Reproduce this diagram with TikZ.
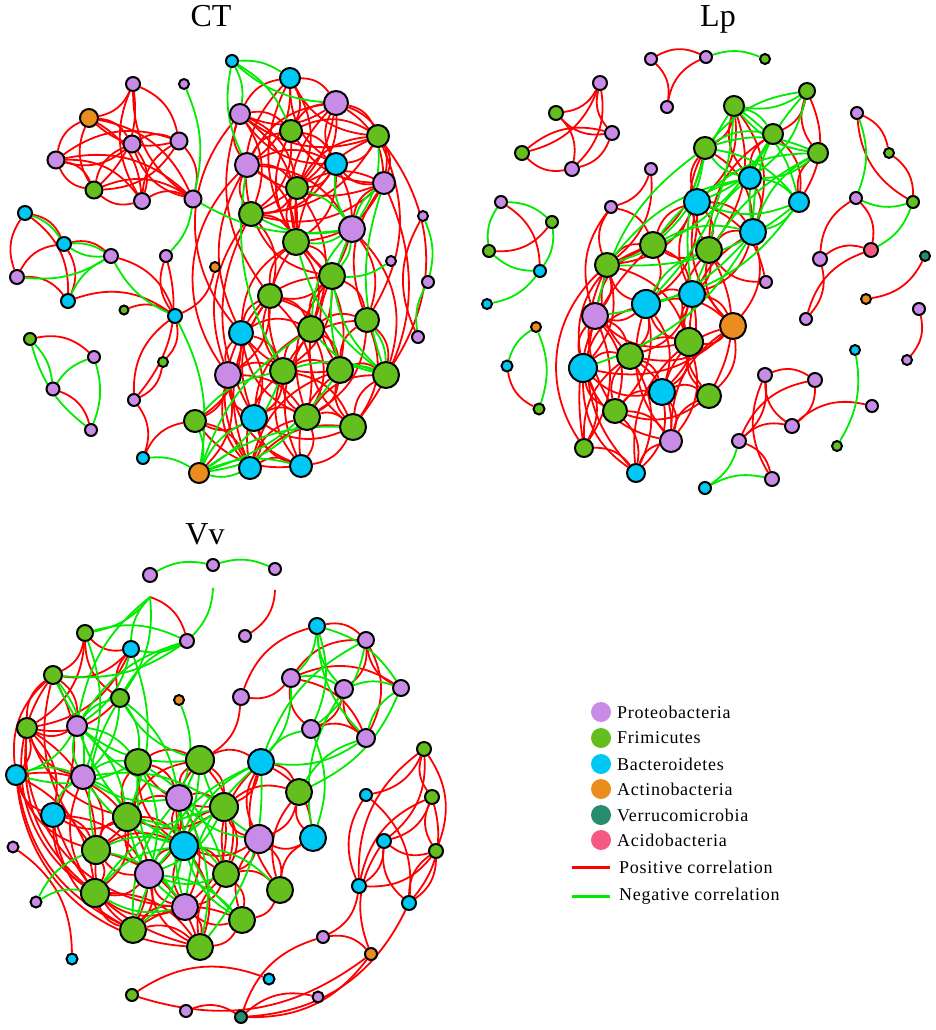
\documentclass[tikz,border=0pt]{standalone}
\usepackage{fontspec}
\setmainfont{Liberation Serif}
\definecolor{cP}{RGB}{200,140,230}
\definecolor{cG}{RGB}{100,190,30}
\definecolor{cB}{RGB}{0,200,245}
\definecolor{cO}{RGB}{235,140,30}
\definecolor{cV}{RGB}{40,140,110}
\definecolor{cA}{RGB}{245,90,130}
\definecolor{eR}{RGB}{255,0,0}
\definecolor{eG}{RGB}{0,235,0}
\pgfdeclarelayer{bgl}
\pgfdeclarelayer{edges}
\pgfsetlayers{bgl,edges,main}
\tikzset{
 nd/.style={circle,draw=black,line width=2pt,inner sep=0pt},
 tP/.style={nd,fill=cP}, tG/.style={nd,fill=cG}, tB/.style={nd,fill=cB},
 tO/.style={nd,fill=cO}, tV/.style={nd,fill=cV}, tA/.style={nd,fill=cA},
 poscor/.style={draw=eR,line width=1.8pt},
 negcor/.style={draw=eG,line width=1.8pt},
 ttl/.style={font=\fontsize{32}{36}\selectfont,anchor=base,inner sep=0pt},
 legtext/.style={font=\fontsize{18}{20}\selectfont\addfontfeature{LetterSpace=4},anchor=west,inner sep=0pt},
 legdot/.style={circle,inner sep=0pt,minimum size=20pt},
}
\newcommand\N[5]{\node[#2,minimum size={2*#5pt}] (#1) at (#3,#4) {};}
\begin{document}
\begin{tikzpicture}[x=1pt,y=-1pt]
\begin{pgfonlayer}{bgl}
\fill[white] (0,0) rectangle (935,1030);
\end{pgfonlayer}
\useasboundingbox (0,0) rectangle (935,1030);
% titles
\node[ttl] (tCT) at (211,27) {CT};
\node[ttl] (tLp) at (718,27) {Lp};
\node[ttl] (tVv) at (205,544) {Vv};
% ================= CT nodes
\N{c1}{tP}{133}{84}{7}
\N{c2}{tP}{184}{84}{5}
\N{c3}{tO}{89}{118}{9}
\N{c4}{tP}{132}{144}{8.5}
\N{c5}{tP}{179}{141}{8.5}
\N{c6}{tP}{56}{160}{8.5}
\N{c7}{tG}{94}{190}{8.5}
\N{c8}{tP}{142}{201}{8}
\N{c9}{tP}{193}{199}{8.5}
\N{c10}{tB}{25}{213}{7}
\N{c11}{tB}{64}{244}{7}
\N{c12}{tP}{111}{256}{7}
\N{c13}{tP}{17}{277}{7}
\N{c14}{tB}{68}{301}{7}
\N{c15}{tP}{166}{256}{6}
\N{c16}{tO}{215}{267}{5}
\N{c17}{tG}{124}{310}{4.5}
\N{c18}{tB}{175}{316}{7}
\N{c19}{tG}{30}{339}{6}
\N{c20}{tP}{94}{357}{6}
\N{c21}{tG}{163}{362}{5}
\N{c22}{tP}{53}{389}{6.5}
\N{c23}{tP}{134}{400}{6}
\N{c24}{tP}{91}{430}{6}
\N{c25}{tB}{143}{458}{6}
\N{c26}{tO}{199}{473}{10}
\N{c27}{tG}{195}{421}{11}
\N{d1}{tB}{232}{61}{6}
\N{d2}{tB}{290}{78}{10}
\N{d3}{tP}{336}{103}{12}
\N{d4}{tP}{240}{114}{10}
\N{d5}{tG}{291}{131}{11}
\N{d6}{tG}{378}{136}{11}
\N{d7}{tP}{247}{165}{12}
\N{d8}{tB}{336}{164}{11}
\N{d9}{tG}{297}{188}{11}
\N{d10}{tP}{384}{183}{11}
\N{d11}{tG}{251}{214}{12}
\N{d12}{tP}{352}{229}{13}
\N{d13}{tG}{296}{242}{13}
\N{d14}{tP}{423}{216}{5}
\N{d15}{tP}{391}{261}{5}
\N{d16}{tG}{332}{276}{13}
\N{d17}{tG}{270}{296}{12}
\N{d18}{tB}{241}{333}{12}
\N{d19}{tG}{311}{329}{13}
\N{d20}{tG}{367}{320}{12}
\N{d21}{tP}{228}{375}{13}
\N{d22}{tG}{283}{371}{13}
\N{d23}{tG}{340}{370}{13}
\N{d24}{tG}{386}{375}{13}
\N{d25}{tB}{254}{418}{13}
\N{d26}{tG}{307}{417}{13}
\N{d27}{tG}{353}{427}{13}
\N{d28}{tB}{250}{468}{11}
\N{d29}{tB}{301}{466}{11}
\N{d30}{tP}{428}{282}{6}
\N{d31}{tP}{418}{337}{6}
% ================= Lp nodes
\N{l1}{tP}{651}{59}{6}
\N{l2}{tP}{706}{57}{6}
\N{l3}{tP}{667}{107}{6}
\N{l4}{tG}{765}{59}{5}
\N{l5}{tP}{600}{83}{7}
\N{l6}{tG}{556}{113}{7}
\N{l7}{tP}{612}{133}{7}
\N{l8}{tG}{522}{153}{7}
\N{l9}{tP}{572}{169}{7}
\N{l10}{tP}{651}{169}{6}
\N{l11}{tP}{611}{207}{6}
\N{l12}{tP}{501}{202}{6}
\N{l13}{tG}{552}{222}{6}
\N{l14}{tG}{489}{251}{6}
\N{l15}{tB}{540}{271}{6}
\N{l16}{tB}{487}{304}{5}
\N{l17}{tO}{536}{327}{5}
\N{l18}{tB}{507}{366}{5.5}
\N{l19}{tG}{539}{409}{5.5}
\N{m1}{tG}{807}{91}{8}
\N{m2}{tG}{734}{106}{10}
\N{m3}{tG}{773}{134}{10}
\N{m4}{tG}{705}{148}{11}
\N{m5}{tG}{818}{153}{10}
\N{m6}{tB}{750}{178}{11}
\N{m7}{tB}{697}{202}{13}
\N{m8}{tB}{799}{202}{10}
\N{m9}{tB}{753}{232}{13}
\N{m10}{tG}{709}{250}{13}
\N{m11}{tG}{653}{245}{13}
\N{m12}{tG}{607}{265}{12}
\N{m13}{tP}{595}{316}{13}
\N{m14}{tB}{646}{304}{14}
\N{m15}{tB}{692}{294}{13}
\N{m16}{tG}{689}{342}{14}
\N{m17}{tO}{733}{326}{13}
\N{m18}{tG}{630}{356}{13}
\N{m19}{tB}{583}{368}{14}
\N{m20}{tB}{662}{392}{13}
\N{m21}{tG}{709}{396}{12}
\N{m22}{tG}{615}{411}{12}
\N{m23}{tP}{671}{441}{11}
\N{m24}{tG}{584}{448}{9}
\N{m25}{tB}{636}{473}{9}
\N{m26}{tP}{766}{282}{6}
\N{n1}{tP}{857}{113}{6}
\N{n2}{tG}{889}{153}{5}
\N{n3}{tP}{856}{198}{6}
\N{n4}{tG}{913}{202}{6}
\N{n5}{tA}{871}{250}{7}
\N{n6}{tP}{820}{259}{7}
\N{n7}{tV}{925}{256}{5}
\N{n8}{tO}{866}{299}{5}
\N{n9}{tP}{806}{319}{6}
\N{n10}{tP}{919}{309}{6}
\N{n11}{tP}{907}{360}{5}
\N{n12}{tB}{855}{350}{5}
\N{n13}{tP}{765}{375}{7}
\N{n14}{tP}{815}{380}{7}
\N{n15}{tP}{872}{406}{6}
\N{n16}{tP}{792}{426}{7}
\N{n17}{tP}{739}{441}{7}
\N{n18}{tG}{837}{446}{5}
\N{n19}{tP}{772}{479}{7}
\N{n20}{tB}{705}{488}{6}
% ================= Vv nodes
\N{v1}{tP}{150}{575}{7}
\N{v2}{tP}{213}{565}{6}
\N{v3}{tP}{275}{569}{6}
\N{v4}{tP}{187}{641}{7}
\N{v5}{tP}{245}{636}{6}
\N{v6}{tG}{85}{633}{8}
\N{v7}{tB}{131}{649}{8}
\N{v8}{tG}{53}{675}{9}
\N{v9}{tG}{120}{698}{9}
\N{v10}{tO}{179}{700}{5}
\N{v11}{tP}{241}{697}{8}
\N{v12}{tG}{27}{728}{10}
\N{v13}{tP}{77}{726}{10}
\N{v14}{tB}{16}{775}{10}
\N{v15}{tP}{83}{777}{12}
\N{v16}{tG}{138}{762}{13}
\N{v17}{tG}{200}{760}{14}
\N{v18}{tB}{53}{815}{12}
\N{v19}{tG}{127}{817}{14}
\N{v20}{tP}{179}{798}{13}
\N{v21}{tG}{224}{807}{14}
\N{v22}{tP}{13}{847}{5.5}
\N{v23}{tG}{96}{850}{14}
\N{v24}{tB}{184}{846}{14}
\N{v25}{tP}{149}{874}{14}
\N{v26}{tG}{226}{874}{13}
\N{v27}{tP}{36}{902}{5.5}
\N{v28}{tG}{95}{893}{14}
\N{v29}{tP}{185}{907}{13}
\N{v30}{tG}{133}{930}{13}
\N{v31}{tG}{200}{947}{13}
\N{v32}{tG}{242}{920}{13}
\N{v33}{tB}{72}{959}{5.5}
\N{v34}{tG}{132}{995}{6}
\N{v35}{tP}{186}{1011}{6}
\N{v36}{tV}{241}{1017}{6}
\N{v37}{tB}{317}{626}{8}
\N{v38}{tP}{366}{640}{8}
\N{v39}{tP}{291}{678}{9}
\N{v40}{tP}{344}{689}{9}
\N{v41}{tP}{401}{688}{8}
\N{v42}{tP}{311}{729}{9}
\N{v43}{tP}{366}{738}{9}
\N{v44}{tB}{261}{762}{13}
\N{v45}{tG}{299}{792}{13}
\N{v46}{tB}{313}{838}{13}
\N{v47}{tP}{259}{839}{14}
\N{v48}{tG}{280}{890}{13}
\N{v49}{tG}{424}{749}{7}
\N{v50}{tB}{366}{795}{6}
\N{v51}{tG}{432}{797}{7}
\N{v52}{tB}{384}{841}{7}
\N{v53}{tG}{436}{851}{7}
\N{v54}{tB}{359}{886}{7}
\N{v55}{tB}{409}{903}{7}
\N{v56}{tP}{323}{937}{6}
\N{v57}{tO}{371}{954}{6}
\N{v58}{tB}{269}{979}{5.5}
\N{v59}{tP}{318}{997}{5.5}
\coordinate (fa) at (150,597);
\coordinate (fb) at (213,588);
\coordinate (fc) at (275,590);
% ================= edges
\begin{pgfonlayer}{edges}
% ---- CT red
\foreach \a/\b in {c1/c3,c1/c5,c1/c7,c3/c4,c3/c9,c3/c8,c4/c5,c4/c6,c4/c8,c5/c7,c5/c9,c6/c8,c7/c9,c8/c9,c6/c9,c6/c7,
 c10/c11,c10/c14,c11/c12,c11/c14,c13/c14,c12/c18,c14/c18,c17/c18,c16/c18,c15/c23,c18/c21,c21/c23,c23/c25,c25/c27,c19/c20,c22/c24,
 d2/d3,d2/d5,d2/d7,d2/d9,d3/d4,d3/d6,d3/d9,d3/d10,d3/d11,d4/d5,d4/d9,d4/d11,d4/d13,d5/d6,d5/d8,d5/d11,d6/d8,d6/d10,d6/d11,
 d7/d8,d7/d9,d7/d13,d8/d9,d8/d11,d8/d13,d9/d10,d9/d11,d10/d11,d10/d13,d11/d13,d11/d17,d13/d16,d13/d19,d16/d17,d16/d20,d16/d22,
 d17/d19,d17/d21,d17/d23,d18/d19,d18/d22,d18/d25,d19/d20,d19/d23,d19/d26,d20/d24,d20/d27,d21/d22,d21/d26,d22/d23,d22/d25,
 d22/d27,d23/d24,d23/d26,d25/d26,d25/d28,d26/d27,d26/d29,d27/d29,d28/d29,d21/c27,c27/d28,d12/d20,d7/d12,
 d8/d16,d9/d19,d13/d23,d17/d26,d20/d26,d6/d20}
 \draw[poscor] (\a) to[bend left=27] (\b);
\foreach \a/\b in {c1/c9,c1/c8,c3/c5,c3/c6,c3/c7,c4/c7,c4/c9,c5/c6,c5/c8,c6/c7,c7/c8,c10/c13,c11/c13,c18/c23,c15/c18,
 d2/d4,d2/d6,d2/d8,d2/d11,d3/d5,d3/d7,d3/d8,d3/d13,d4/d6,d4/d7,d4/d8,d5/d7,d5/d10,d5/d13,d6/d9,d6/d13,d7/d10,d7/d11,d8/d10,
 d9/d13,d10/d12,d11/d16,d13/d17,d13/d18,d16/d18,d16/d19,d16/d23,d16/d26,d17/d18,d17/d22,d17/d25,d18/d21,d18/d23,d18/d26,
 d19/d22,d19/d25,d19/d27,d20/d22,d20/d23,d21/d25,d21/d28,d22/d26,d22/d28,d22/d29,d23/d27,d23/d29,d24/d27,d24/d26,d25/d29,
 d25/d27,d26/d28,d27/d28,c27/d25,c27/d18,c27/d29,c26/d21,d14/d31,
 d2/d13,d4/d17,d7/d18,d11/d21,d11/d25,d17/d28,d18/d28,d21/d29,d9/d16,d13/d22,d19/d29,d23/d28,d10/d20}
 \draw[poscor] (\a) to[bend right=27] (\b);
\draw[poscor] (d12) to[bend left=30] (d24);
\draw[poscor] (d6) to[bend left=35] (d24);
\draw[poscor] (d10) to[bend left=30] (d27);
\draw[poscor] (d3) to[bend left=40] (d10);
\draw[poscor] (d4) to[bend right=40] (d18);
\draw[poscor] (d7) to[bend right=40] (d21);
% ---- CT green
\foreach \a/\b in {c2/c9,c9/c15,c10/c11,c11/c12,c12/c13,c18/c26,c25/c26,c19/c22,c20/c24,
 d1/d2,d1/d4,d1/d5,d12/d8,d12/d10,d12/d16,d12/d13,d12/d11,d24/d16,d24/d19,d24/d10,d24/d13,
 c26/d25,c26/d27,c26/d29,c26/d19,d15/d16,d14/d30,c27/d22}
 \draw[negcor] (\a) to[bend left=18] (\b);
\foreach \a/\b in {c9/d12,c11/c12,c12/c14,c12/c18,c26/c27,c19/c24,c20/c22,
 d1/d3,d1/d7,d12/d9,d12/d6,d12/d19,d12/d23,d24/d20,d24/d23,d24/d22,
 c26/d26,c26/d23,c26/d22,c26/d28,d30/d31,d7/d22}
 \draw[negcor] (\a) to[bend right=18] (\b);
% ---- Lp red
\foreach \a/\b in {l1/l2,l1/l3,l5/l6,l5/l8,l5/l9,l6/l9,l8/l7,l7/l9,l10/l11,l10/m12,l11/m11,l12/l15,l13/l14,
 m1/m3,m1/m8,m2/m4,m2/m7,m3/m8,m4/m9,m6/m9,m7/m9,m2/m9,m2/m10,m4/m12,
 m7/m10,m7/m14,m7/m12,m9/m15,m10/m15,m10/m11,m11/m14,m11/m15,m12/m13,m12/m19,m13/m18,m13/m22,m14/m15,m14/m18,
 m14/m20,m15/m18,m16/m20,m16/m23,m18/m20,m18/m23,m19/m24,m20/m21,m20/m23,m22/m23,m22/m25,m24/m25,m24/m18,m20/m25,
 m17/m7,m17/m10,m17/m16,m17/m18,m17/m21,m17/m19,m26/m10,m12/m16,m21/m22,
 m14/m22,m15/m20,m10/m21,m18/m25,
 n1/n2,n2/n4,n3/n5,n6/n5,n6/n9,n7/n8,n10/n11,n13/n14,n13/n17,n14/n16,n16/n15,n17/n19}
 \draw[poscor] (\a) to[bend left=27] (\b);
\foreach \a/\b in {l2/l3,l5/l7,l6/l7,l8/l9,l11/m12,l11/m13,l18/l19,
 m1/m5,m2/m6,m4/m7,m3/m6,m5/m8,m4/m10,m3/m10,
 m7/m15,m7/m11,m9/m10,m9/m16,m10/m16,m11/m12,m11/m13,m12/m14,m13/m14,m13/m19,m14/m16,m14/m19,m15/m16,m16/m18,m16/m21,
 m18/m19,m18/m22,m19/m22,m19/m20,m20/m22,m21/m23,m23/m25,m24/m13,m19/m25,m17/m9,m17/m15,m17/m14,m17/m20,m17/m23,
 m26/m7,m13/m16,m12/m18,
 m11/m24,m12/m22,m13/m25,m19/m23,m14/m23,m15/m21,m16/m25,
 n1/n4,n3/n6,n5/n9,n13/n16,n13/n19,n14/n17,n16/n17}
 \draw[poscor] (\a) to[bend right=27] (\b);
\draw[poscor] (m12) to[bend right=40] (m24);
\draw[poscor] (m11) to[bend right=40] (m19);
% ---- Lp green
\foreach \a/\b in {l2/l4,l12/l13,l13/l15,l15/l16,l17/l19,
 m1/m2,m1/m6,m2/m3,m2/m8,m2/m14,m3/m7,m4/m5,m4/m8,m5/m6,m6/m8,m8/m9,m9/m13,m8/m12,m4/m11,m9/m19,m3/m12,m8/m14,
 n1/n3,n4/n5,n12/n18,n17/n20}
 \draw[negcor] (\a) to[bend left=20] (\b);
\foreach \a/\b in {l12/l14,l14/l15,l17/l18,
 m1/m4,m1/m9,m2/m5,m2/m15,m3/m4,m3/m9,m4/m6,m5/m7,m5/m9,m6/m10,m7/m8,m9/m11,m6/m12,m10/m14,m4/m13,m5/m15,m6/m11,
 n3/n4,n19/n20}
 \draw[negcor] (\a) to[bend right=20] (\b);
% ---- Vv red
\foreach \a/\b in {v6/v8,v6/v12,v7/v8,v7/v12,v8/v13,v9/v12,v12/v14,v12/v18,v14/v19,v14/v28,
 v16/v17,v16/v20,v16/v23,v17/v21,v17/v44,v17/v26,v18/v23,v18/v25,v19/v20,v19/v24,v19/v28,v20/v21,v20/v25,v20/v29,
 v21/v26,v21/v45,v21/v29,v23/v28,v23/v24,v24/v26,v24/v31,v25/v28,v25/v30,v26/v29,v26/v32,v26/v48,v28/v31,v29/v31,
 v30/v31,v32/v47,v44/v45,v44/v46,v45/v47,v46/v47,v47/v48,v12/v23,v22/v33,v11/v17,v11/v37,
 v8/v18,v15/v23,v23/v31,v30/v32,v19/v30,
 v37/v38,v38/v40,v38/v43,v39/v41,v39/v43,v40/v42,v42/v43,
 v49/v50,v49/v53,v49/v52,v50/v55,v51/v52,v51/v55,v52/v54,v53/v54,v53/v55,v54/v56,v56/v57,v57/v36,v35/v36,v34/v58,
 fa/v4,fc/v5}
 \draw[poscor] (\a) to[bend left=27] (\b);
\foreach \a/\b in {v6/v9,v6/v7,v7/v9,v8/v12,v8/v14,v12/v13,v12/v15,v14/v18,v14/v23,v14/v30,
 v16/v19,v16/v21,v16/v24,v17/v20,v17/v24,v17/v19,v18/v19,v18/v28,v18/v30,v19/v23,v19/v25,v19/v21,v20/v24,v20/v26,
 v21/v24,v21/v44,v21/v47,v23/v25,v23/v30,v24/v25,v24/v29,v24/v47,v25/v29,v25/v31,v26/v31,v26/v47,v28/v30,v29/v30,
 v29/v32,v31/v32,v32/v48,v44/v47,v45/v46,v45/v48,v46/v48,v44/v26,v44/v48,v12/v28,v18/v31,v11/v39,
 v8/v23,v12/v19,v15/v28,v28/v29,
 v38/v39,v38/v41,v39/v42,v40/v43,
 v49/v51,v49/v54,v50/v54,v51/v53,v51/v54,v52/v53,v52/v55,v53/v55,v52/v57,v56/v36,v34/v57,v59/v36}
 \draw[poscor] (\a) to[bend right=27] (\b);
\draw[poscor] (v14) to[bend right=40] (v31);
\draw[poscor] (v12) to[bend right=45] (v29);
\draw[poscor] (v8) to[bend right=45] (v28);
\draw[poscor] (v55) to[bend left=30] (v36);
% ---- Vv green
\foreach \a/\b in {v1/v2,v2/v3,fa/v6,fa/v9,fb/v4,v4/v7,v4/v8,v7/v13,v8/v15,v9/v15,v13/v14,v13/v16,v14/v15,v15/v16,
 v15/v19,v9/v16,v6/v15,v13/v19,v15/v21,v16/v25,v17/v25,v20/v31,v21/v25,v23/v24,v24/v30,v25/v32,v29/v44,v24/v44,
 v9/v20,v7/v19,v10/v20,v27/v28,v27/v23,v16/v26,v19/v26,v23/v29,v24/v48,
 v37/v39,v37/v42,v37/v41,v38/v42,v39/v40,v40/v41,v43/v44,v41/v45,v42/v46,v39/v44}
 \draw[negcor] (\a) to[bend left=20] (\b);
\foreach \a/\b in {fa/v7,fa/v13,v4/v9,v4/v6,v4/v13,v9/v13,v13/v15,v13/v17,v14/v16,v15/v18,v15/v20,v9/v17,
 v13/v24,v15/v24,v16/v29,v19/v29,v20/v32,v21/v28,v24/v28,v24/v32,v25/v26,v31/v44,v20/v47,v28/v29,v9/v23,v8/v20,v44/v25,
 v17/v29,v20/v30,v21/v30,v17/v47,
 v37/v40,v37/v43,v41/v43,v43/v45,v40/v46,v42/v44,v38/v44}
 \draw[negcor] (\a) to[bend right=20] (\b);
\end{pgfonlayer}
% ================= legend
\node[legdot,fill=cP] (k1) at (601,712) {};
\node[legdot,fill=cG] (k2) at (601,738) {};
\node[legdot,fill=cB] (k3) at (601,764) {};
\node[legdot,fill=cO] (k4) at (601,789) {};
\node[legdot,fill=cV] (k5) at (601,815) {};
\node[legdot,fill=cA] (k6) at (601,840) {};
\node[legtext] (t1) at (617,712) {Proteobacteria};
\node[legtext] (t2) at (617,738) {Frimicutes};
\node[legtext] (t3) at (617,764) {Bacteroidetes};
\node[legtext] (t4) at (617,789) {Actinobacteria};
\node[legtext] (t5) at (617,815) {Verrucomicrobia};
\node[legtext] (t6) at (617,840) {Acidobacteria};
\coordinate (r1) at (572,867);
\coordinate (r2) at (610,867);
\coordinate (g1) at (572,896);
\coordinate (g2) at (610,896);
\draw[draw=eR,line width=3pt] (r1) -- (r2);
\draw[draw=eG,line width=3pt] (g1) -- (g2);
\node[legtext] (t7) at (619,867) {Positive correlation};
\node[legtext] (t8) at (619,896) {Negative correlation};
\end{tikzpicture}
\end{document}
